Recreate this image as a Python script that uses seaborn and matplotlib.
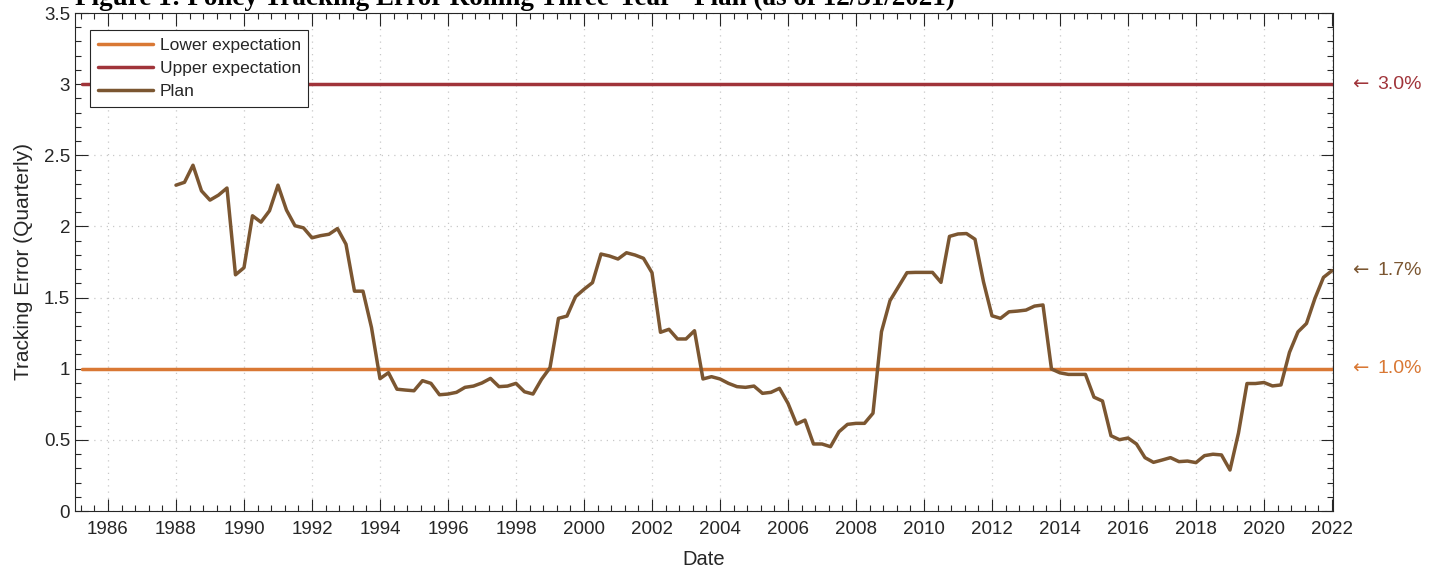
import numpy as np
import pandas as pd
import seaborn as sns
import matplotlib.pyplot as plt
from matplotlib.ticker import MultipleLocator
import matplotlib.transforms as mtransforms

# quarterly rolling three-year tracking error of the plan, 1988 Q1 .. 2021 Q4
start_year = 1988.0
plan_te = [
    2.29, 2.31, 2.43, 2.25, 2.185, 2.22, 2.27, 1.66,
    1.71, 2.075, 2.03, 2.11, 2.29, 2.115, 2.005, 1.99,
    1.92, 1.935, 1.945, 1.985, 1.875, 1.545, 1.545, 1.29,
    0.93, 0.972, 0.856, 0.85, 0.845, 0.916, 0.897, 0.817,
    0.822, 0.834, 0.869, 0.878, 0.90, 0.932, 0.874, 0.878,
    0.897, 0.838, 0.822, 0.925, 1.007, 1.354, 1.37, 1.506,
    1.558, 1.605, 1.806, 1.792, 1.771, 1.815, 1.799, 1.776,
    1.675, 1.256, 1.277, 1.209, 1.209, 1.267, 0.928, 0.944,
    0.928, 0.897, 0.874, 0.869, 0.878, 0.827, 0.834, 0.862,
    0.757, 0.611, 0.639, 0.471, 0.471, 0.452, 0.557, 0.609,
    0.616, 0.616, 0.687, 1.26, 1.478, 1.576, 1.675, 1.677,
    1.677, 1.677, 1.607, 1.93, 1.947, 1.95, 1.91, 1.611,
    1.372, 1.354, 1.40, 1.405, 1.412, 1.44, 1.448, 0.998,
    0.971, 0.96, 0.96, 0.96, 0.80, 0.773, 0.529, 0.501,
    0.513, 0.471, 0.375, 0.342, 0.358, 0.375, 0.347, 0.351,
    0.34, 0.389, 0.399, 0.394, 0.288, 0.548, 0.896, 0.896,
    0.903, 0.879, 0.886, 1.115, 1.259, 1.318, 1.495, 1.642,
    1.689,
]
dates = start_year + 0.25 * np.arange(len(plan_te))

lower_expectation = 1.0
upper_expectation = 3.0
band_span = [1985.25, 2022.0]

title = "Figure 1: Policy Tracking Error Rolling Three-Year - Plan (as of 12/31/2021)"

c_lower = "#d97834"
c_upper = "#a0343a"
c_plan = "#7b5631"
ink = "#262626"

sns.set_theme(style="ticks")
plt.rcParams["font.family"] = ["Liberation Sans", "DejaVu Sans"]
plt.rcParams["axes.edgecolor"] = ink
plt.rcParams["xtick.color"] = ink
plt.rcParams["ytick.color"] = ink

fig = plt.figure(figsize=(14.3, 5.71), dpi=100)
ax = fig.add_axes([75 / 1430, 1 - 511 / 571, 1258 / 1430, 498 / 571])

lines = pd.DataFrame({"x": band_span, "lo": [lower_expectation] * 2,
                      "hi": [upper_expectation] * 2})
plan = pd.DataFrame({"date": dates, "te": plan_te})

sns.lineplot(data=lines, x="x", y="lo", color=c_lower, lw=2.5, ax=ax,
             label="Lower expectation")
sns.lineplot(data=lines, x="x", y="hi", color=c_upper, lw=2.5, ax=ax,
             label="Upper expectation")
sns.lineplot(data=plan, x="date", y="te", color=c_plan, lw=2.5, ax=ax,
             label="Plan")

ax.set_xlim(1985.03, 2022.03)
ax.set_ylim(0, 3.5)
ax.xaxis.set_minor_locator(MultipleLocator(0.4))
ax.yaxis.set_minor_locator(MultipleLocator(0.1))
ax.set_yticks(np.arange(0, 3.51, 0.5))
ax.set_yticklabels(["0", "0.5", "1", "1.5", "2", "2.5", "3", "3.5"])
ax.set_xticks(np.arange(1986, 2023, 2))
ax.set_xticklabels([str(y) for y in range(1986, 2023, 2)])

ax.tick_params(which="both", direction="in", top=True, right=True,
               labelsize=13.5, width=0.8)
ax.tick_params(which="major", length=9)
ax.tick_params(which="minor", length=4.5)
ax.tick_params(axis="x", pad=7)
for s in ax.spines.values():
    s.set_linewidth(0.8)

ax.grid(True, which="major", linestyle=(0, (1, 4)), color="#c8c8c8", lw=0.9)
ax.set_axisbelow(True)

ax.set_xlabel("Date", fontsize=14.5, color=ink, labelpad=9)
ax.set_ylabel("Tracking Error (Quarterly)", fontsize=15, color=ink, labelpad=8)

leg = ax.legend(loc="upper left", bbox_to_anchor=(0.012, 0.966),
                borderaxespad=0, fontsize=12.5, frameon=True, fancybox=False,
                edgecolor=ink, framealpha=1, handlelength=3.2,
                labelspacing=0.45, borderpad=0.45, handletextpad=0.35)
leg.get_frame().set_linewidth(0.8)

# right-hand value markers
trans = mtransforms.blended_transform_factory(ax.transAxes, ax.transData)
for val, col in [(upper_expectation, c_upper), (plan_te[-1], c_plan),
                 (lower_expectation, c_lower)]:
    ax.text(1.015, val, "\u2190", transform=trans, color=col, fontsize=14,
            va="center", ha="left", family="DejaVu Sans")
    ax.text(1.0355, val, "%.1f%%" % val, transform=trans, color=col,
            fontsize=14, va="center", ha="left")

fig.text(75 / 1430, 1 - 5 / 571, title, fontsize=19.5, fontweight="bold",
         family="Liberation Serif", ha="left", va="baseline", color="black")

fig.savefig("out.png", dpi=100)
